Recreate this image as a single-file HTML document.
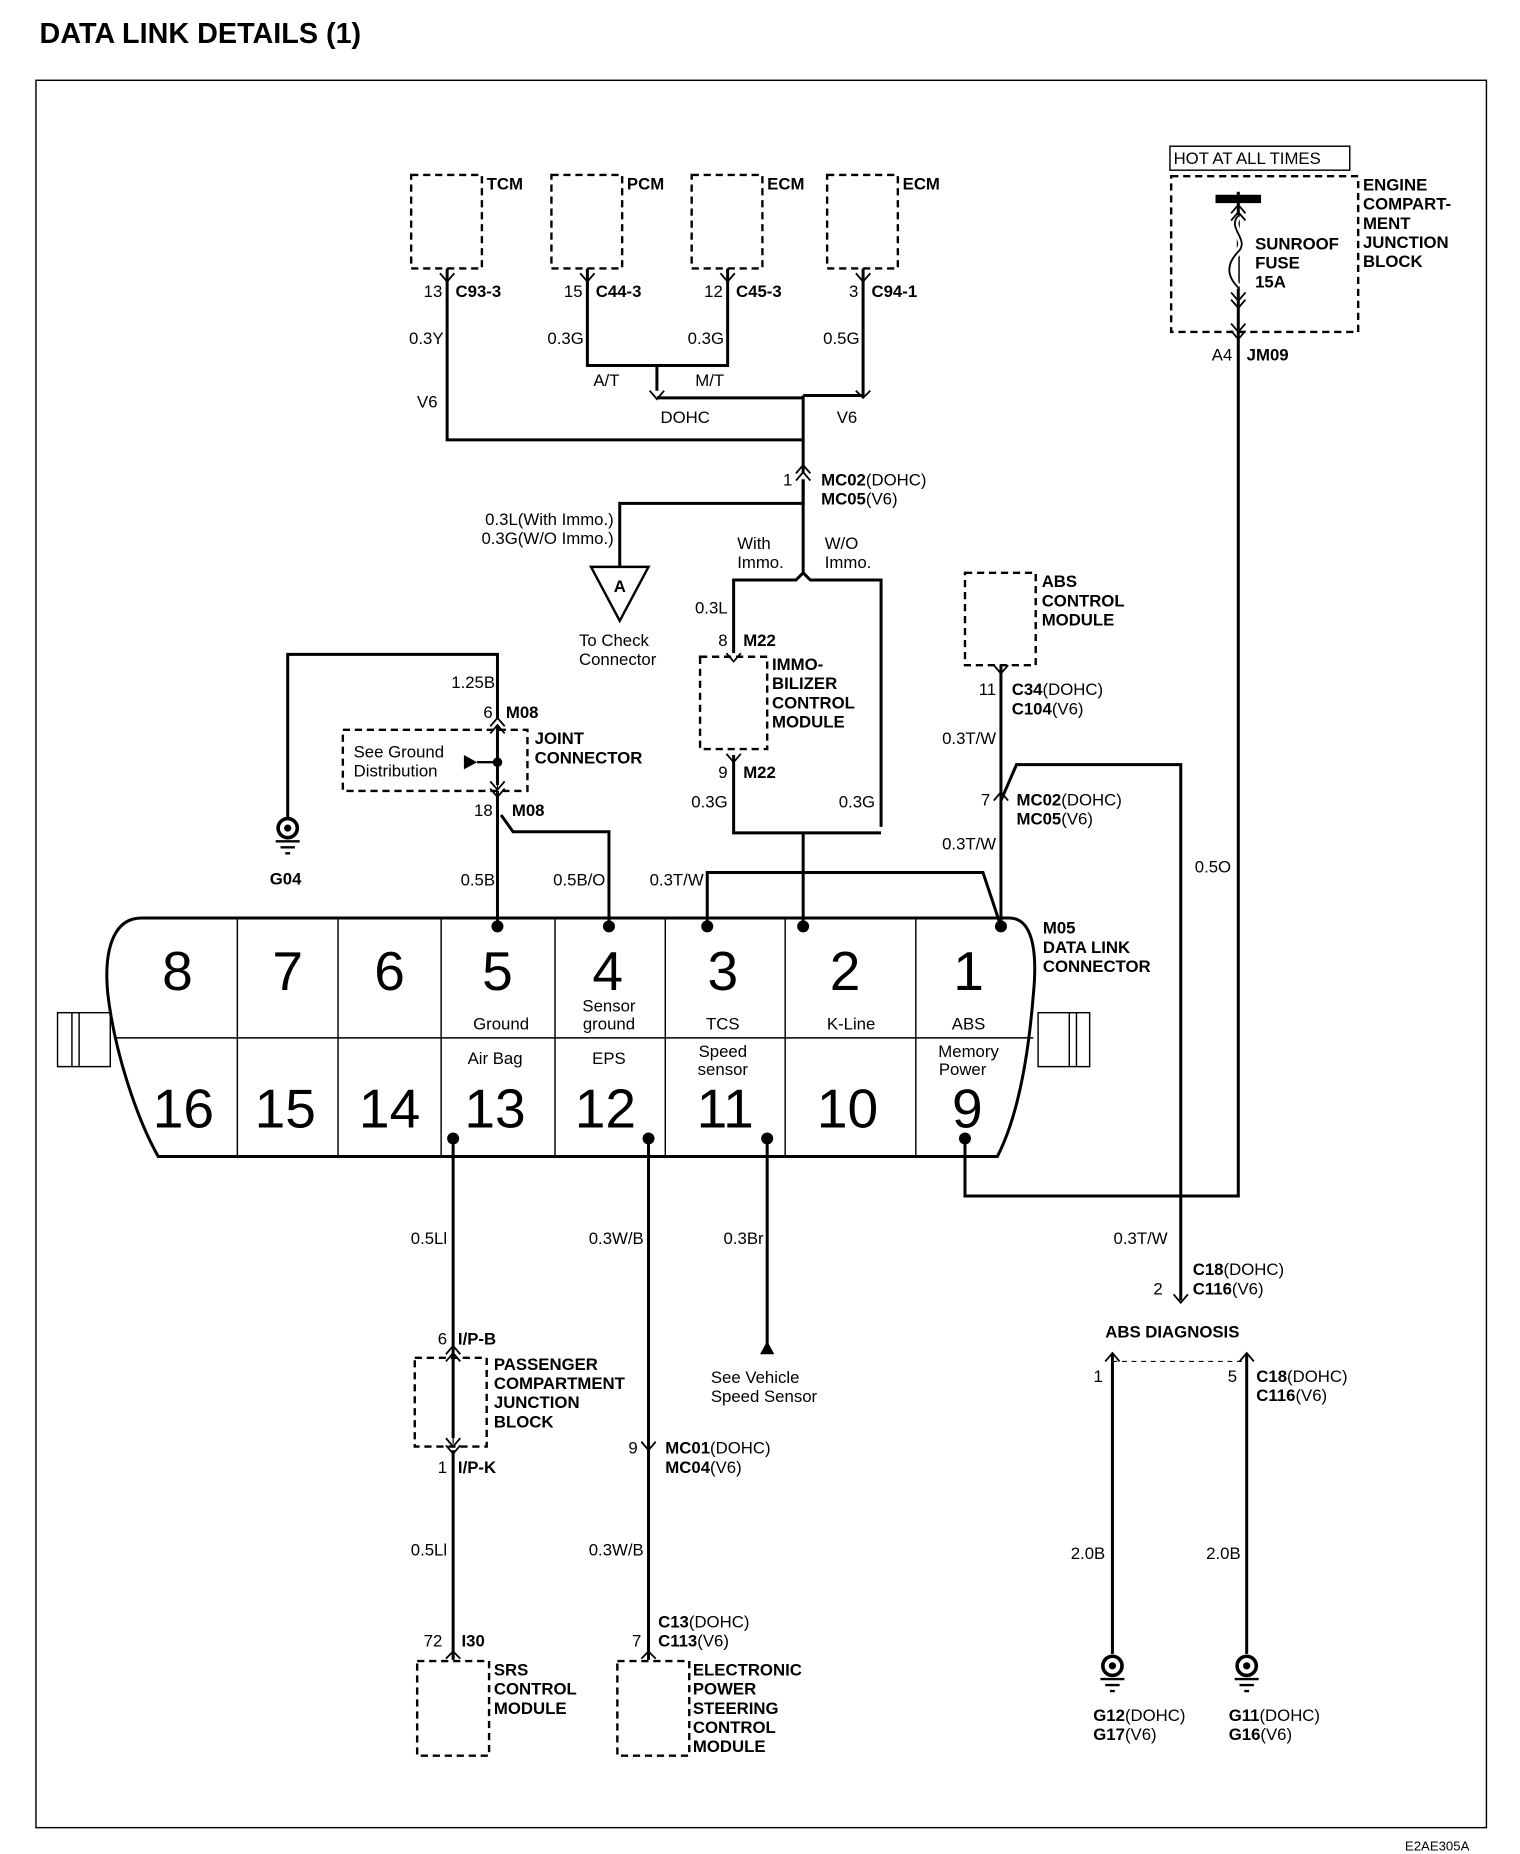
<!DOCTYPE html>
<html><head><meta charset="utf-8"><style>
html,body{margin:0;padding:0;background:#fff}
svg{display:block}
text{font-family:"Liberation Sans",sans-serif;font-size:14px;fill:#000}
.b{font-weight:bold}
.n{font-size:46px}
.s{font-size:15px}
</style></head><body>
<svg width="1520" height="1854" viewBox="0 0 1268 1547" preserveAspectRatio="none" xmlns="http://www.w3.org/2000/svg">
<text x="33" y="36" class="b" style="font-size:24px">DATA  LINK  DETAILS  (1)</text>
<rect x="30" y="67" width="1210" height="1458" fill="none" stroke="#000" stroke-width="1.2"/>
<text x="1172" y="1544" style="font-size:11px">E2AE305A</text>

<g fill="none" stroke="#000" stroke-width="2" stroke-dasharray="6,4">
<rect x="343" y="146" width="59" height="78"/>
<rect x="460" y="146" width="59" height="78"/>
<rect x="577" y="146" width="59" height="78"/>
<rect x="690" y="146" width="59" height="78"/>
<rect x="977" y="147" width="156" height="130"/>
<rect x="805" y="478" width="59" height="77"/>
<rect x="584" y="548" width="56" height="77"/>
<rect x="286" y="609" width="154" height="51"/>
<rect x="346" y="1133" width="60" height="74"/>
<rect x="348" y="1386" width="60" height="79"/>
<rect x="515" y="1386" width="60" height="79"/>
</g>
<line x1="928" y1="1136" x2="1038" y2="1136" stroke="#000" stroke-dasharray="4,4"/>

<!-- wires -->
<g fill="none" stroke="#000" stroke-width="2.5">
<path d="M373 224V367H670"/>
<path d="M490 224V305H607V224"/>
<path d="M548 305V326M548 332H670M720 224V330H670M670 330V395"/>
<path d="M670 400V420H517V473"/>
<path d="M670 400V478M670 478L664 484H612V545M670 478L676 484H735V690"/>
<path d="M612 630V695H735M670 695V773"/>
<path d="M240 683V546H415V600M415 605V655M415 660V773M418 680L428 694H508V773"/>
<path d="M590 773V728H820L835 773"/>
<path d="M835 555V773M835 668L848 638H985V1085"/>
<path d="M1033 160V998H805V950"/>
<path d="M378 950V1200M378 1210V1385M541 950V1385M640 950V1128"/>
<path d="M928 1130V1380M1040 1130V1380"/>
</g>
<line x1="1014" y1="166" x2="1052" y2="166" stroke="#000" stroke-width="7"/>
<path d="M1033 180c-10 10 10 20 0 30s-10 20 0 30" fill="#fff" stroke="#fff" stroke-width="6"/>
<path d="M1033 180c-10 10 10 20 0 30s-10 20 0 30" fill="none" stroke="#000" stroke-width="1.5"/>

<!-- chevrons -->
<g fill="none" stroke="#000" stroke-width="1.5">
<path d="M367 228l6 7 6-7M484 228l6 7 6-7M601 228l6 7 6-7M714 228l6 7 6-7"/>
<path d="M664 395l6-7 6 7M664 401l6-7 6 7"/>
<path d="M542 326l6 7 6-7M714 326l6 6 6-6"/>
<path d="M606 545l6 7 6-7M606 629l6 7 6-7M829 555l6 7 6-7M829 668l6-7 6 7"/>
<path d="M409 606l6-7 6 7M409 612l6-7 6 7M409 652l6 7 6-7M409 658l6 7 6-7"/>
<path d="M1027 178l6-7 6 7M1027 184l6-7 6 7M1027 244l6 7 6-7M1027 250l6 7 6-7M1027 270l6 7 6-7M1027 276l6 7 6-7"/>
<path d="M979 1080l6 7 6-7M922 1136l6-7 6 7M1034 1136l6-7 6 7"/>
<path d="M372 1130l6-7 6 7M372 1136l6-7 6 7M372 1200l6 7 6-7M372 1206l6 7 6-7M535 1203l6 7 6-7M372 1384l6-6 6 6M535 1384l6-6 6 6"/>
<path d="M415 612V658" stroke-width="1"/>
<path d="M378 1136V1205" stroke-width="1"/>
</g>
<polygon points="493,473 541,473 517,518" fill="#fff" stroke="#000" stroke-width="2"/>
<text x="512" y="494" class="b">A</text>
<polygon points="387,630 387,642 398,636" fill="#000"/>
<line x1="398" y1="636" x2="415" y2="636" stroke="#000" stroke-width="2"/>
<polygon points="634,1130 646,1130 640,1119" fill="#000"/>
<g fill="#000">
<circle cx="415" cy="636" r="4"/><circle cx="415" cy="773" r="5"/><circle cx="508" cy="773" r="5"/><circle cx="590" cy="773" r="5"/><circle cx="670" cy="773" r="5"/><circle cx="835" cy="773" r="5"/>
<circle cx="378" cy="950" r="5"/><circle cx="541" cy="950" r="5"/><circle cx="640" cy="950" r="5"/><circle cx="805" cy="950" r="5"/>
</g>

<!-- grounds -->
<g fill="none" stroke="#000" stroke-width="2">
<circle cx="240" cy="691" r="8" stroke-width="3"/><path d="M230 702h20M234 707h12M238 712h4"/>
<circle cx="928" cy="1390" r="8" stroke-width="3"/><path d="M918 1401h20M922 1406h12M926 1411h4"/>
<circle cx="1040" cy="1390" r="8" stroke-width="3"/><path d="M1030 1401h20M1034 1406h12M1038 1411h4"/>
</g>
<g fill="#000"><circle cx="240" cy="691" r="3"/><circle cx="928" cy="1390" r="3"/><circle cx="1040" cy="1390" r="3"/></g>

<!-- connector -->
<g fill="none" stroke="#000" stroke-width="2.5">
<path d="M118 766H842C860 766 866 790 862 830C858 880 850 930 832 965H132C115 935 96 880 90 830C86 790 96 766 118 766Z"/>
</g>
<g stroke="#000" stroke-width="1.2">
<line x1="95" y1="866" x2="862" y2="866"/>
<path d="M198 766V965M282 766V965M368 766V965M463 766V965M555 766V965M655 766V965M764 766V965"/>
<rect x="48" y="845" width="44" height="45" fill="none"/><path d="M60 845v45M66 845v45"/>
<rect x="866" y="845" width="43" height="45" fill="none"/><path d="M892 845v45M898 845v45"/>
</g>
<g class="n" text-anchor="middle">
<text x="148" y="826" class="n">8</text><text x="240" y="826" class="n">7</text><text x="325" y="826" class="n">6</text><text x="415" y="826" class="n">5</text><text x="507" y="826" class="n">4</text><text x="603" y="826" class="n">3</text><text x="705" y="826" class="n">2</text><text x="808" y="826" class="n">1</text>
<text x="153" y="941" class="n">16</text><text x="238" y="941" class="n">15</text><text x="325" y="941" class="n">14</text><text x="413" y="941" class="n">13</text><text x="505" y="941" class="n">12</text><text x="605" y="941" class="n">11</text><text x="707" y="941" class="n">10</text><text x="807" y="941" class="n">9</text>
</g>
<g text-anchor="middle" class="s">
<text x="418" y="859">Ground</text><text x="508" y="844">Sensor</text><text x="508" y="859">ground</text><text x="603" y="859">TCS</text><text x="710" y="859">K-Line</text><text x="808" y="859">ABS</text>
<text x="413" y="888">Air Bag</text><text x="508" y="888">EPS</text><text x="603" y="882">Speed</text><text x="603" y="897">sensor</text><text x="808" y="882">Memory</text><text x="803" y="897">Power</text>
</g>

<!-- labels -->
<g class="b">
<text x="406" y="158">TCM</text><text x="523" y="158">PCM</text><text x="640" y="158">ECM</text><text x="753" y="158">ECM</text>
<text x="380" y="248">C93-3</text><text x="497" y="248">C44-3</text><text x="614" y="248">C45-3</text><text x="727" y="248">C94-1</text>
<text x="685" y="405">MC02<tspan font-weight="normal">(DOHC)</tspan></text><text x="685" y="421">MC05<tspan font-weight="normal">(V6)</tspan></text>
<text x="620" y="539">M22</text><text x="620" y="649">M22</text>
<text x="644" y="559">IMMO-</text><text x="644" y="575">BILIZER</text><text x="644" y="591">CONTROL</text><text x="644" y="607">MODULE</text>
<text x="422" y="599">M08</text><text x="427" y="681">M08</text>
<text x="446" y="621">JOINT</text><text x="446" y="637">CONNECTOR</text>
<text x="869" y="490">ABS</text><text x="869" y="506">CONTROL</text><text x="869" y="522">MODULE</text>
<text x="844" y="580">C34<tspan font-weight="normal">(DOHC)</tspan></text><text x="844" y="596">C104<tspan font-weight="normal">(V6)</tspan></text>
<text x="848" y="672">MC02<tspan font-weight="normal">(DOHC)</tspan></text><text x="848" y="688">MC05<tspan font-weight="normal">(V6)</tspan></text>
<text x="870" y="779">M05</text><text x="870" y="795">DATA LINK</text><text x="870" y="811">CONNECTOR</text>
<text x="1047" y="208">SUNROOF</text><text x="1047" y="224">FUSE</text><text x="1047" y="240">15A</text>
<text x="1137" y="159">ENGINE</text><text x="1137" y="175">COMPART-</text><text x="1137" y="191">MENT</text><text x="1137" y="207">JUNCTION</text><text x="1137" y="223">BLOCK</text>
<text x="1040" y="301">JM09</text>
<text x="995" y="1064">C18<tspan font-weight="normal">(DOHC)</tspan></text><text x="995" y="1080">C116<tspan font-weight="normal">(V6)</tspan></text>
<text x="922" y="1116">ABS DIAGNOSIS</text>
<text x="1048" y="1153">C18<tspan font-weight="normal">(DOHC)</tspan></text><text x="1048" y="1169">C116<tspan font-weight="normal">(V6)</tspan></text>
<text x="912" y="1436">G12<tspan font-weight="normal">(DOHC)</tspan></text><text x="912" y="1452">G17<tspan font-weight="normal">(V6)</tspan></text>
<text x="1025" y="1436">G11<tspan font-weight="normal">(DOHC)</tspan></text><text x="1025" y="1452">G16<tspan font-weight="normal">(V6)</tspan></text>
<text x="382" y="1122">I/P-B</text><text x="382" y="1229">I/P-K</text><text x="385" y="1374">I30</text>
<text x="412" y="1143">PASSENGER</text><text x="412" y="1159">COMPARTMENT</text><text x="412" y="1175">JUNCTION</text><text x="412" y="1191">BLOCK</text>
<text x="412" y="1398">SRS</text><text x="412" y="1414">CONTROL</text><text x="412" y="1430">MODULE</text>
<text x="555" y="1213">MC01<tspan font-weight="normal">(DOHC)</tspan></text><text x="555" y="1229">MC04<tspan font-weight="normal">(V6)</tspan></text>
<text x="549" y="1358">C13<tspan font-weight="normal">(DOHC)</tspan></text><text x="549" y="1374">C113<tspan font-weight="normal">(V6)</tspan></text>
<text x="578" y="1398">ELECTRONIC</text><text x="578" y="1414">POWER</text><text x="578" y="1430">STEERING</text><text x="578" y="1446">CONTROL</text><text x="578" y="1462">MODULE</text>
<text x="225" y="738">G04</text>
</g>
<g text-anchor="end">
<text x="369" y="248">13</text><text x="486" y="248">15</text><text x="603" y="248">12</text><text x="716" y="248">3</text>
<text x="370" y="287">0.3Y</text><text x="487" y="287">0.3G</text><text x="604" y="287">0.3G</text><text x="717" y="287">0.5G</text>
<text x="365" y="340">V6</text>
<text x="661" y="405">1</text>
<text x="512" y="438">0.3L(With Immo.)</text><text x="512" y="454">0.3G(W/O Immo.)</text>
<text x="607" y="512">0.3L</text><text x="607" y="539">8</text><text x="607" y="649">9</text>
<text x="607" y="674">0.3G</text><text x="730" y="674">0.3G</text>
<text x="413" y="574">1.25B</text><text x="411" y="599">6</text><text x="411" y="681">18</text>
<text x="413" y="739">0.5B</text><text x="505" y="739">0.5B/O</text><text x="587" y="739">0.3T/W</text>
<text x="831" y="580">11</text><text x="831" y="621">0.3T/W</text><text x="826" y="672">7</text><text x="831" y="709">0.3T/W</text>
<text x="1027" y="728">0.5O</text><text x="1028" y="301">A4</text>
<text x="974" y="1038">0.3T/W</text><text x="970" y="1080">2</text>
<text x="920" y="1153">1</text><text x="1032" y="1153">5</text>
<text x="922" y="1301">2.0B</text><text x="1035" y="1301">2.0B</text>
<text x="373" y="1038">0.5Ll</text><text x="373" y="1122">6</text><text x="373" y="1229">1</text><text x="373" y="1298">0.5Ll</text><text x="369" y="1374">72</text>
<text x="537" y="1038">0.3W/B</text><text x="532" y="1213">9</text><text x="537" y="1298">0.3W/B</text><text x="535" y="1374">7</text>
<text x="637" y="1038">0.3Br</text>
</g>
<text x="495" y="322">A/T</text><text x="580" y="322">M/T</text>
<text x="551" y="353">DOHC</text><text x="698" y="353">V6</text>
<text x="615" y="458">With</text><text x="615" y="474">Immo.</text><text x="688" y="458">W/O</text><text x="688" y="474">Immo.</text>
<text x="483" y="539">To Check</text><text x="483" y="555">Connector</text>
<text x="295" y="632">See Ground</text><text x="295" y="648">Distribution</text>
<text x="593" y="1154">See Vehicle</text><text x="593" y="1170">Speed Sensor</text>
<rect x="976" y="122" width="150" height="20" fill="none" stroke="#000" stroke-width="1.2"/>
<text x="979" y="137">HOT AT ALL TIMES</text>
</svg>
</body></html>
